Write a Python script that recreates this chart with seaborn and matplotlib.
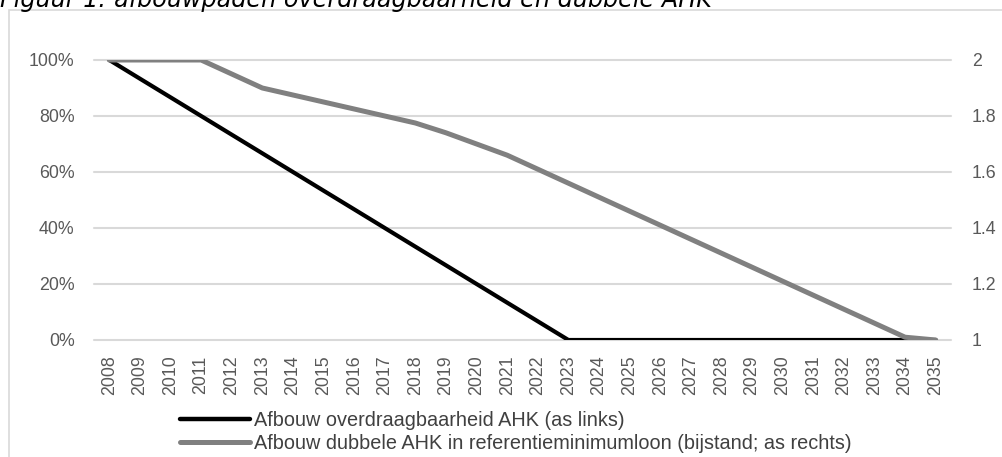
import matplotlib
matplotlib.use("Agg")
import matplotlib.pyplot as plt
import seaborn as sns
import pandas as pd
from matplotlib.patches import Rectangle
from matplotlib.lines import Line2D

years = [str(y) for y in range(2008, 2036)]
overdraagbaarheid = [1.0, 0.9333, 0.8667, 0.80, 0.7333, 0.6667, 0.60, 0.5333, 0.4667, 0.40,
                     0.3333, 0.2667, 0.20, 0.1333, 0.0667, 0.0, 0.0, 0.0, 0.0, 0.0,
                     0.0, 0.0, 0.0, 0.0, 0.0, 0.0, 0.0, 0.0]
dubbele_ahk = [2.0, 2.0, 2.0, 2.0, 1.95, 1.90, 1.875, 1.85, 1.825, 1.80,
               1.775, 1.74, 1.70, 1.66, 1.61, 1.56, 1.51, 1.46, 1.41, 1.36,
               1.31, 1.26, 1.21, 1.16, 1.11, 1.06, 1.01, 1.0]
label_left = "Afbouw overdraagbaarheid AHK (as links)"
label_right = "Afbouw dubbele AHK in referentieminimumloon (bijstand; as rechts)"
title = "Figuur 1: afbouwpaden overdraagbaarheid en dubbele AHK"
left_ticks = [0, 0.2, 0.4, 0.6, 0.8, 1.0]
left_ticklabels = ["0%", "20%", "40%", "60%", "80%", "100%"]
right_ticks = [1, 1.2, 1.4, 1.6, 1.8, 2]
right_ticklabels = ["1", "1.2", "1.4", "1.6", "1.8", "2"]

sns.set_theme(style="white")
plt.rcParams['font.family'] = ['Liberation Sans', 'DejaVu Sans']

df = pd.DataFrame({"year": years, "left": overdraagbaarheid, "right": dubbele_ahk})
df["pos"] = range(len(years))

fig = plt.figure(figsize=(10.03, 4.57), dpi=100)
ax = fig.add_axes([94/1003, 1-340/457, (951-94)/1003, 280/457])
ax2 = ax.twinx()

tick_color = "#595959"
grid_color = "#d9d9d9"

sns.lineplot(data=df, x="pos", y="left", ax=ax, color="black", linewidth=3.0, sort=False, legend=False, zorder=3)
sns.lineplot(data=df, x="pos", y="right", ax=ax2, color="#808080", linewidth=3.6, sort=False, legend=False, zorder=3)

ax.set_xlim(-0.5, len(years) - 0.5)
ax.set_ylim(0, 1)
ax2.set_ylim(1, 2)
ax.set_xticks(range(len(years)))
ax.set_xticklabels(years, rotation=90)
ax.set_yticks(left_ticks)
ax.set_yticklabels(left_ticklabels)
ax2.set_yticks(right_ticks)
ax2.set_yticklabels(right_ticklabels)
ax.set_xlabel("")
ax.set_ylabel("")
ax2.set_ylabel("")

for t in left_ticks:
    ax.axhline(t, color=grid_color, linewidth=1.5, zorder=0, clip_on=False)

for a in (ax, ax2):
    for s in a.spines.values():
        s.set_visible(False)
    a.tick_params(length=0, colors=tick_color, labelsize=12.8)
ax.tick_params(axis="y", pad=14)
ax2.tick_params(axis="y", pad=15)
ax.tick_params(axis="x", pad=11)

# chart border
fig.patches.append(Rectangle((9/1003, -0.05), 1.1, 1-10/457 + 0.05, transform=fig.transFigure,
                             fill=False, edgecolor="#d9d9d9", linewidth=1.2))

fig.text(0.0, 1-7/457, title, ha="left", va="baseline", fontsize=17.2,
         style="italic", family=["DejaVu Sans"], color="black")

handles = [Line2D([0], [0], color="black", linewidth=3.2),
           Line2D([0], [0], color="#808080", linewidth=3.6)]
leg = fig.legend(handles, [label_left, label_right], loc="upper left",
           bbox_to_anchor=(180/1003, 1-411/457), frameon=False,
           labelcolor="#404040", handlelength=3.5, handletextpad=0.2, labelspacing=0.2,
           borderaxespad=0, borderpad=0,
           prop={"family": ["Liberation Sans Narrow", "Liberation Sans"], "size": 14.35})

fig.savefig("out.png", dpi=100)
